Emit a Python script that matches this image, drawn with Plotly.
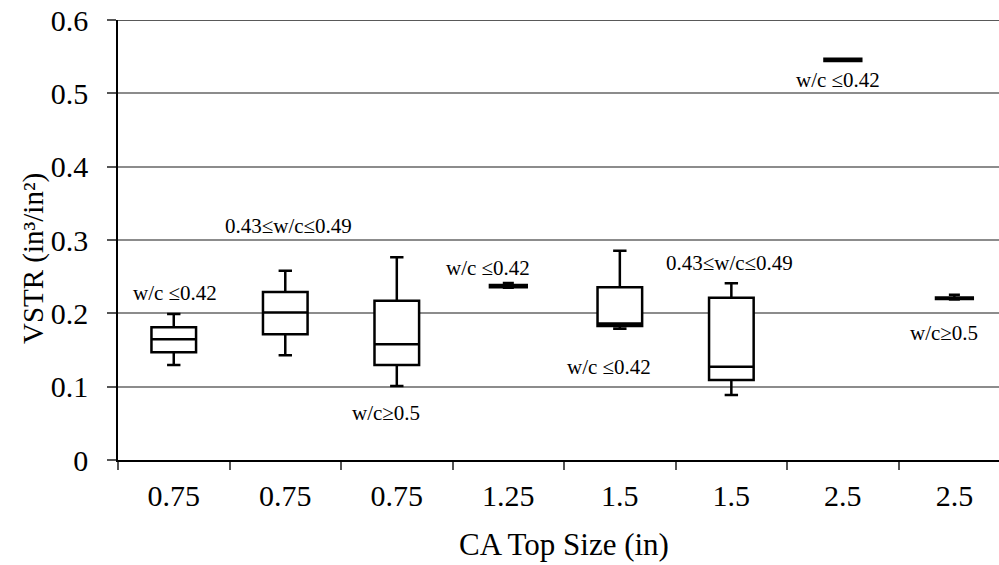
import plotly.graph_objects as go

# Data
tick_labels = ["0.75", "0.75", "0.75", "1.25", "1.5", "1.5", "2.5", "2.5"]
positions = [0, 1, 2, 3, 4, 5, 6, 7]
lower_whisker = [0.1295, 0.1428, 0.1009, 0.2350, 0.1790, 0.0886, 0.5440, 0.2190]
q1_values     = [0.1470, 0.1714, 0.1295, 0.2355, 0.1827, 0.1090, 0.5440, 0.2195]
median_values = [0.1646, 0.2010, 0.1578, 0.2370, 0.1860, 0.1273, 0.5455, 0.2205]
q3_values     = [0.1810, 0.2290, 0.2173, 0.2385, 0.2355, 0.2214, 0.5470, 0.2215]
upper_whisker = [0.1990, 0.2580, 0.2764, 0.2415, 0.2855, 0.2410, 0.5470, 0.2255]

labels = ["w/c \u22640.42", "0.43\u2264w/c\u22640.49", "w/c\u22650.5", "w/c \u22640.42",
          "w/c \u22640.42", "0.43\u2264w/c\u22640.49", "w/c \u22640.42", "w/c\u22650.5"]
label_x = [0.013, 1.031, 1.901, 2.82, 3.905, 4.986, 5.955, 6.906]
label_y = [0.2277, 0.319, 0.064, 0.2618, 0.1268, 0.268, 0.518, 0.173]

FONT = "Liberation Serif"

fig = go.Figure()
for i in range(len(positions)):
    collapsed = (q3_values[i] - q1_values[i]) < 0.005
    fig.add_trace(go.Box(
        x=[positions[i]],
        q1=[q1_values[i]], median=[median_values[i]], q3=[q3_values[i]],
        lowerfence=[lower_whisker[i]], upperfence=[upper_whisker[i]],
        width=0.33 if collapsed else 0.40,
        whiskerwidth=0.3,
        fillcolor="white",
        line=dict(color="black", width=2.5),
        boxpoints=False,
        showlegend=False,
        hoverinfo="skip",
    ))

for t, x, y in zip(labels, label_x, label_y):
    fig.add_annotation(x=x, y=y, xref="x", yref="y", text=t, showarrow=False,
                       font=dict(family=FONT, size=21, color="black"),
                       xanchor="center", yanchor="middle")

# axis titles
fig.add_annotation(x=3.5, y=-0.193, xref="x", yref="paper", text="CA Top Size (in)",
                   showarrow=False, font=dict(family=FONT, size=31, color="black"),
                   xanchor="center", yanchor="middle")
fig.add_annotation(x=-0.0965, y=0.459, xref="paper", yref="paper", text="VSTR (in\u00b3/in\u00b2)",
                   showarrow=False, textangle=-90,
                   font=dict(family=FONT, size=29, color="black"),
                   xanchor="center", yanchor="middle")

# top border
fig.add_shape(type="line", xref="paper", yref="y", x0=0, x1=1, y0=0.6, y1=0.6,
              line=dict(color="#222222", width=1.5))

fig.update_layout(
    width=999, height=565,
    margin=dict(l=118, r=0, t=20, b=105),
    paper_bgcolor="white", plot_bgcolor="white",
    font=dict(family=FONT, size=30, color="black"),
    xaxis=dict(
        range=[-0.5, 7.4],
        tickmode="array", tickvals=positions, ticktext=tick_labels,
        ticks="outside", ticklen=8, tickcolor="rgba(0,0,0,0)",
        tickfont=dict(family=FONT, size=30, color="black"),
        showgrid=False, zeroline=False,
        showline=True, linecolor="black", linewidth=1.5,
        minor=dict(tickmode="array", tickvals=[-0.5, 0.5, 1.5, 2.5, 3.5, 4.5, 5.5, 6.5],
                   ticks="outside", ticklen=8, tickcolor="#555555", tickwidth=1.5,
                   showgrid=False),
    ),
    yaxis=dict(
        range=[0, 0.6],
        tickmode="array", tickvals=[0, 0.1, 0.2, 0.3, 0.4, 0.5, 0.6],
        ticktext=["0", "0.1", "0.2", "0.3", "0.4", "0.5", "0.6"],
        ticks="outside", ticklen=9, tickcolor="#555555", tickwidth=1.5,
        ticklabelstandoff=13,
        tickfont=dict(family=FONT, size=30, color="black"),
        showgrid=True, gridcolor="#8c8c8c", gridwidth=1.5,
        zeroline=False,
        showline=True, linecolor="black", linewidth=1.5,
    ),
)

fig.write_html("out.html")
